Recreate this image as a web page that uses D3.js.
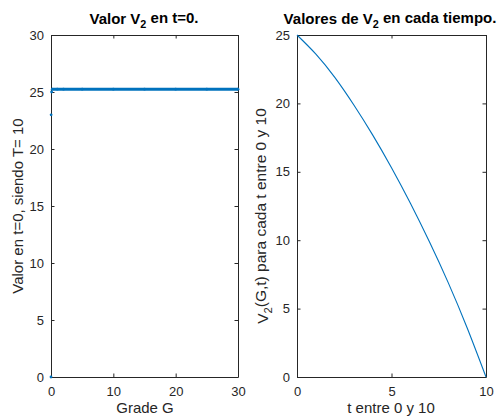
<!DOCTYPE html>
<html>
<head>
<meta charset="utf-8">
<script src="https://cdn.jsdelivr.net/npm/d3@7"></script>
<style>
  html, body { margin: 0; padding: 0; background: #fff; }
  svg text { font-family: "Liberation Sans", Arial, Helvetica, sans-serif; fill: #262626; }
</style>
</head>
<body>
<svg id="chart" width="497" height="419"></svg>
<script>
// Left panel: value of V2 at t=0 for each grade G (T = 10)
const gradeG   = [0, 0.02, 0.1, 0.2, 1, 2, 5, 10, 15, 20, 25, 30];
const valorT0  = [0, 23.0, 25.0, 25.25, 25.25, 25.25, 25.25, 25.25, 25.25, 25.25, 25.25, 25.25];
const leftXTicks = [0, 10, 20, 30];
const leftYTicks = [0, 5, 10, 15, 20, 25, 30];

// Right panel: V2(G,t) over time t in [0, 10]
const tiempo  = [0, 1, 2, 3, 4, 5, 6, 7, 8, 9, 10];
const valorV2 = [25, 23.6, 21.9, 19.9, 17.7, 15.3, 12.7, 9.9, 6.9, 3.6, 0];
const rightXTicks = [0, 5, 10];
const rightYTicks = [0, 5, 10, 15, 20, 25];

const BLUE = "#0072BD";
const AXIS = "#262626";
const svg = d3.select("#chart");

function panel(opts) {
  const { x0, x1, y0, y1, xDomain, yDomain, xTicks, yTicks } = opts;
  const x = d3.scaleLinear().domain(xDomain).range([x0, x1]);
  const y = d3.scaleLinear().domain(yDomain).range([y1, y0]);
  const g = svg.append("g");

  const tickLen = 3.5;
  // box axes with inward ticks on all four sides
  const bottom = g.append("g").attr("transform", `translate(0,${y1})`)
    .call(d3.axisBottom(x).tickValues(xTicks).tickSizeInner(-tickLen).tickSizeOuter(0).tickPadding(10).tickFormat(d3.format("d")));
  const top = g.append("g").attr("transform", `translate(0,${y0})`)
    .call(d3.axisTop(x).tickValues(xTicks).tickSizeInner(-tickLen).tickSizeOuter(0).tickFormat(""));
  const left = g.append("g").attr("transform", `translate(${x0},0)`)
    .call(d3.axisLeft(y).tickValues(yTicks).tickSizeInner(-tickLen).tickSizeOuter(0).tickPadding(7).tickFormat(d3.format("d")));
  const right = g.append("g").attr("transform", `translate(${x1},0)`)
    .call(d3.axisRight(y).tickValues(yTicks).tickSizeInner(-tickLen).tickSizeOuter(0).tickFormat(""));

  [bottom, top, left, right].forEach(a => {
    a.select(".domain").attr("stroke", AXIS).attr("stroke-width", 1);
    a.selectAll(".tick line").attr("stroke", AXIS).attr("stroke-width", 1);
    a.selectAll(".tick text").attr("font-size", 13).style("fill", AXIS);
  });
  bottom.selectAll(".tick text").attr("dy", "0.71em");
  return { g, x, y };
}

function textWithSub(parts, cx, cy, opts) {
  const t = svg.append("text")
    .attr("x", cx).attr("y", cy)
    .attr("text-anchor", "middle")
    .attr("font-size", opts.size)
    .attr("font-weight", opts.weight || "normal");
  if (opts.fill) t.style("fill", opts.fill);
  if (opts.rotate) t.attr("transform", `rotate(-90,${cx},${cy})`);
  parts.forEach(p => {
    if (p.sub) {
      t.append("tspan").text(p.text).attr("dy", "0.35em").attr("font-size", opts.size * 0.72);
    } else {
      const ts = t.append("tspan").text(p.text);
      if (p.after) ts.attr("dy", "-0.35em");
    }
  });
  return t;
}

// ---------- Left panel ----------
const L = panel({
  x0: 51, x1: 238, y0: 35, y1: 377,
  xDomain: [0, 30], yDomain: [0, 30],
  xTicks: leftXTicks, yTicks: leftYTicks
});
const plateau = gradeG.map((g, i) => [g, valorT0[i]]).filter(d => d[0] >= 0.2);
L.g.append("path")
  .datum(plateau)
  .attr("fill", "none")
  .attr("stroke", BLUE)
  .attr("stroke-width", 3)
  .attr("d", d3.line().x(d => L.x(d[0])).y(d => L.y(d[1])));
L.g.selectAll("circle.pt")
  .data(gradeG.map((g, i) => [g, valorT0[i]]))
  .join("circle")
  .attr("class", "pt")
  .attr("cx", d => L.x(d[0]))
  .attr("cy", d => L.y(d[1]))
  .attr("r", 1.4)
  .attr("fill", BLUE);

textWithSub([{ text: "Valor V" }, { text: "2", sub: true }, { text: " en t=0.", after: true }],
  144, 24, { size: 15, weight: "bold", fill: "#000" });
svg.append("text").attr("x", 145).attr("y", 413).attr("text-anchor", "middle")
  .attr("font-size", 15).text("Grade G");
svg.append("text")
  .attr("transform", "translate(23,206) rotate(-90)")
  .attr("text-anchor", "middle").attr("font-size", 15)
  .text("Valor en t=0, siendo T= 10");

// ---------- Right panel ----------
const R = panel({
  x0: 297, x1: 486, y0: 35, y1: 377,
  xDomain: [0, 10], yDomain: [0, 25],
  xTicks: rightXTicks, yTicks: rightYTicks
});
R.g.append("path")
  .datum(tiempo.map((t, i) => [t, valorV2[i]]))
  .attr("fill", "none")
  .attr("stroke", BLUE)
  .attr("stroke-width", 1.1)
  .attr("d", d3.line().curve(d3.curveNatural).x(d => R.x(d[0])).y(d => R.y(d[1])));

textWithSub([{ text: "Valores de V" }, { text: "2", sub: true }, { text: " en cada tiempo.", after: true }],
  390, 24, { size: 15, weight: "bold", fill: "#000" });
svg.append("text").attr("x", 391).attr("y", 413).attr("text-anchor", "middle")
  .attr("font-size", 15).text("t entre 0 y 10");
textWithSub([{ text: "V" }, { text: "2", sub: true }, { text: "(G,t) para cada t entre 0 y 10", after: true }],
  268, 216, { size: 15.5, rotate: true });
</script>
</body>
</html>
